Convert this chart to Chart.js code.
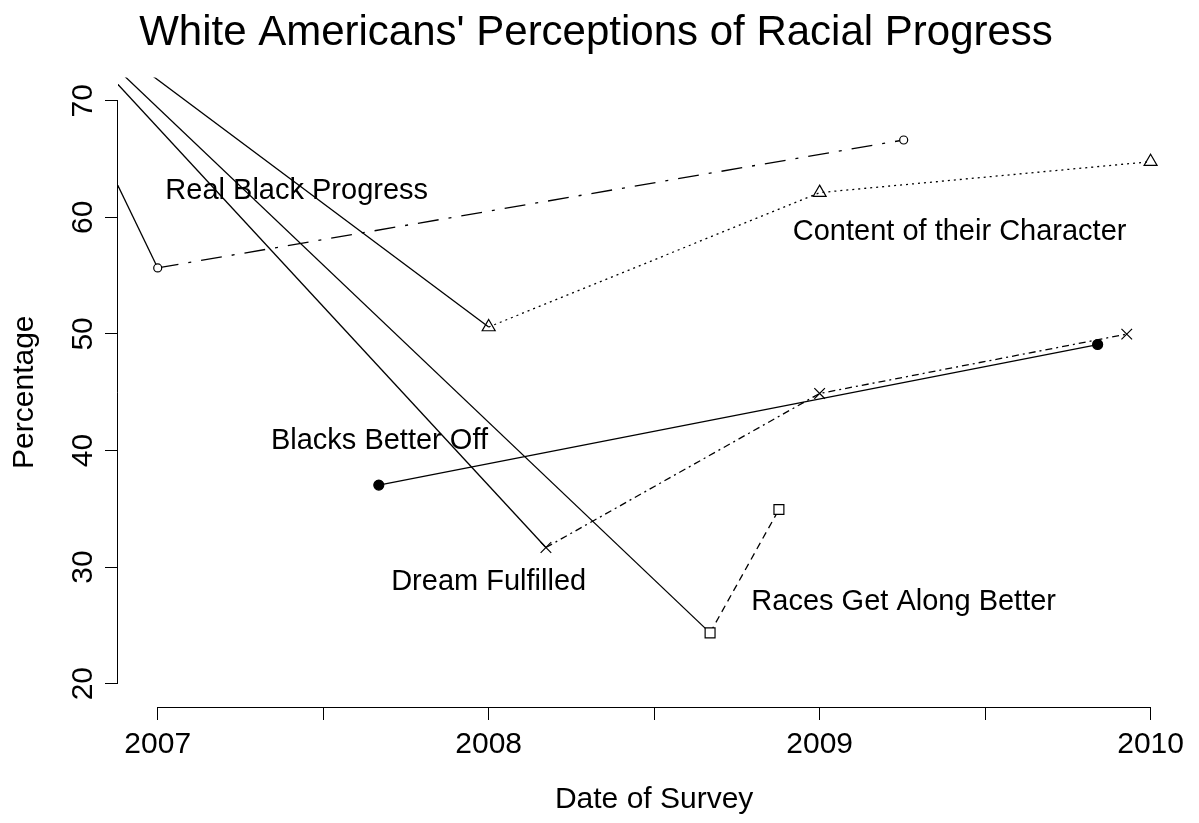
<!DOCTYPE html>
<html>
<head>
<meta charset="utf-8">
<script src="https://cdn.jsdelivr.net/npm/chart.js@4"></script>
<style>
    body { margin: 0; background: #fff; }
    canvas { display: block; }
</style>
</head>
<body>
<canvas id="grafico" width="1199" height="823"></canvas>
<script>
// ticks
const xTicks = [2007, 2007.5, 2008, 2008.5, 2009, 2009.5, 2010];
const yTicks = [20, 30, 40, 50, 60, 70];

// series (first point of some series lies before 2007, off the plot)
const realBlackX = [2006.75, 2007.0, 2009.254];
const realBlackY = [70.36, 55.66, 66.63];

const contentX = [2006.5, 2008.0, 2009.0, 2010.0];
const contentY = [82.4, 50.59, 62.12, 64.77];

const betterOffX = [2007.668, 2009.84];
const betterOffY = [37.03, 49.09];

const dreamX = [2006.5, 2008.173, 2009.0, 2009.928];
const dreamY = [83.07, 31.68, 44.89, 49.98];

const racesX = [2006.5, 2008.669, 2008.877];
const racesY = [82.9, 24.36, 34.94];

// text labels inside the plot
const labelText = ['Real Black Progress', 'Content of their Character', 'Blacks Better Off', 'Dream Fulfilled', 'Races Get Along Better'];
const labelX = [2007.42, 2009.423, 2007.67, 2008.0, 2009.254];
const labelY = [62.24, 58.73, 40.8, 28.71, 27.03];

const FONT = '"Liberation Sans", Arial, Helvetica, sans-serif';

function pts(xs, ys) {
    return xs.map((x, i) => ({ x: x, y: ys[i] }));
}

// solid first segment (from the off-plot point), patterned after that
function serie(xs, ys, dash, style, radius, fill, lead) {
    return {
        data: pts(xs, ys),
        borderColor: '#000',
        borderWidth: 1.3,
        tension: 0,
        fill: false,
        pointStyle: style,
        pointRadius: radius,
        pointBorderColor: '#000',
        pointBorderWidth: 1.2,
        pointBackgroundColor: fill,
        segment: {
            borderDash: ctx => (lead && ctx.p0DataIndex === 0) ? [] : dash
        }
    };
}

const axisLines = {
    id: 'axisLines',
    afterDraw(chart) {
        const { ctx, chartArea, scales: { x, y } } = chart;
        const yb = Math.round(chartArea.bottom) + 0.5;
        const xl = Math.round(chartArea.left) - 0.5;
        ctx.save();
        ctx.strokeStyle = '#000';
        ctx.lineWidth = 1;
        ctx.beginPath();
        ctx.moveTo(x.getPixelForValue(xTicks[0]), yb);
        ctx.lineTo(x.getPixelForValue(xTicks[xTicks.length - 1]), yb);
        ctx.moveTo(xl, y.getPixelForValue(yTicks[0]));
        ctx.lineTo(xl, y.getPixelForValue(yTicks[yTicks.length - 1]));
        ctx.stroke();
        ctx.restore();
    }
};

const textLabels = {
    id: 'textLabels',
    afterDatasetsDraw(chart) {
        const { ctx, scales: { x, y } } = chart;
        ctx.save();
        ctx.fillStyle = '#000';
        ctx.font = '29px ' + FONT;
        ctx.textAlign = 'center';
        ctx.textBaseline = 'middle';
        labelText.forEach((t, i) => {
            ctx.fillText(t, x.getPixelForValue(labelX[i]), y.getPixelForValue(labelY[i]));
        });
        ctx.restore();
    }
};

new Chart(document.getElementById('grafico'), {
    type: 'line',
    data: {
        datasets: [
            serie(realBlackX, realBlackY, [21, 10, 3, 10], 'circle', 4, '#fff', true),
            serie(contentX, contentY, [2, 4], 'triangle', 7.5, 'rgba(0,0,0,0)', true),
            serie(betterOffX, betterOffY, [], 'circle', 5, '#000', false),
            serie(dreamX, dreamY, [7, 4, 2, 4], 'crossRot', 7.5, 'rgba(0,0,0,0)', true),
            serie(racesX, racesY, [7, 5], 'rect', 7, '#fff', true)
        ]
    },
    options: {
        responsive: false,
        devicePixelRatio: 1,
        animation: false,
        events: [],
        layout: { padding: { left: 0, right: 7, top: 0, bottom: 0 } },
        plugins: {
            legend: { display: false },
            tooltip: { enabled: false },
            title: {
                display: true,
                text: "White Americans' Perceptions of Racial Progress",
                color: '#000',
                font: { family: FONT, size: 42, weight: 'normal' },
                padding: { top: 8, bottom: 19 }
            }
        },
        scales: {
            x: {
                type: 'linear',
                position: 'bottom',
                min: 2006.88,
                max: 2010.12,
                afterBuildTicks: s => { s.ticks = xTicks.map(v => ({ value: v })); },
                afterFit: s => { s.height = 116; },
                border: { display: false },
                grid: { drawOnChartArea: false, drawTicks: true, tickLength: 13, color: '#000', lineWidth: 1 },
                ticks: {
                    color: '#000',
                    font: { family: FONT, size: 30 },
                    padding: 7,
                    maxRotation: 0,
                    autoSkip: false,
                    callback: v => Number.isInteger(v) ? String(v) : ''
                },
                title: {
                    display: true,
                    text: 'Date of Survey',
                    color: '#000',
                    font: { family: FONT, size: 30 },
                    padding: { top: 0, bottom: 5 }
                }
            },
            y: {
                type: 'linear',
                position: 'left',
                min: 18,
                max: 72,
                afterBuildTicks: s => { s.ticks = yTicks.map(v => ({ value: v })); },
                afterFit: s => { s.width = 118; },
                border: { display: false },
                grid: { drawOnChartArea: false, drawTicks: true, tickLength: 13, color: '#000', lineWidth: 1 },
                ticks: {
                    color: '#000',
                    font: { family: FONT, size: 30 },
                    padding: 5,
                    minRotation: 90,
                    maxRotation: 90,
                    crossAlign: 'center',
                    autoSkip: false,
                    callback: v => String(v)
                },
                title: {
                    display: true,
                    text: 'Percentage',
                    color: '#000',
                    font: { family: FONT, size: 30 },
                    padding: { top: 7, bottom: 0 }
                }
            }
        }
    },
    plugins: [axisLines, textLabels]
});
</script>
</body>
</html>
